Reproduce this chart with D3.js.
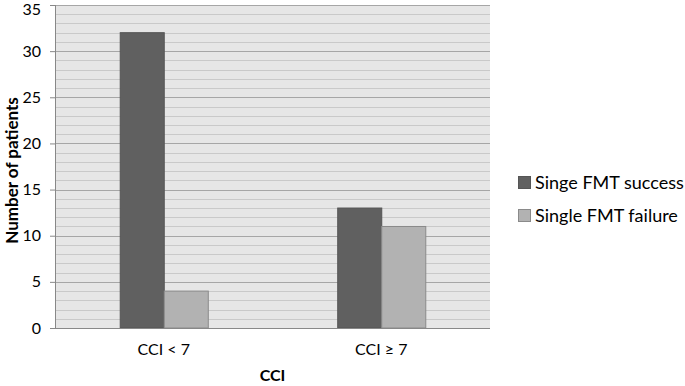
<!DOCTYPE html>
<html>
<head>
<meta charset="utf-8">
<script src="https://cdn.jsdelivr.net/npm/d3@7"></script>
<style>
  body { margin: 0; background: #fff; }
  svg text { font-family: Lato, "Open Sans", sans-serif; fill: #000; }
</style>
</head>
<body>
<div id="chart"></div>
<script>
// data
var categories = ["CCI < 7", "CCI \u2265 7"];
var seriesNames = ["Singe FMT success", "Single FMT failure"];
var successValues = [32, 13];
var failureValues = [4, 11];
var yTicks = [0, 5, 10, 15, 20, 25, 30, 35];

var colors = ["#606060", "#b2b2b2"];
var strokes = ["#555555", "#8a8a8a"];

var width = 685, height = 386;
var margin = {top: 5, right: 195, bottom: 58, left: 55};
var plotW = width - margin.left - margin.right;
var plotH = height - margin.top - margin.bottom;

var svg = d3.select("#chart")
  .append("svg")
    .attr("width", width)
    .attr("height", height);

var g = svg.append("g")
    .attr("transform", "translate(" + margin.left + "," + margin.top + ")");

var y = d3.scaleLinear()
    .domain([0, 35])
    .range([plotH, 0]);

var x0 = d3.scaleBand()
    .domain(categories)
    .range([0, plotW])
    .padding(0);

var x1 = d3.scaleBand()
    .domain(seriesNames)
    .range([0, x0.bandwidth()])
    .paddingInner(0)
    .paddingOuter(1.47);

// plot background
g.append("rect")
    .attr("width", plotW)
    .attr("height", plotH)
    .attr("fill", "#e6e6e6");

// minor grid lines, one per patient
g.append("g")
  .selectAll("line")
  .data(d3.range(1, 35).filter(function(d) { return d % 5 !== 0; }))
  .enter().append("line")
    .attr("x1", 0)
    .attr("x2", plotW)
    .attr("y1", function(d) { return Math.round(y(d)) + 0.5; })
    .attr("y2", function(d) { return Math.round(y(d)) + 0.5; })
    .style("stroke", "#c9c9c9")
    .style("stroke-width", "1px");

// major grid lines
g.append("g")
  .selectAll("line")
  .data(yTicks.slice(1))
  .enter().append("line")
    .attr("x1", 0)
    .attr("x2", plotW)
    .attr("y1", function(d) { return Math.round(y(d)) + 0.5; })
    .attr("y2", function(d) { return Math.round(y(d)) + 0.5; })
    .style("stroke", "#a6a6a6")
    .style("stroke-width", "1px");

// bars
var rows = categories.map(function(c, i) {
  return [
    {cat: c, s: seriesNames[0], v: successValues[i], k: 0},
    {cat: c, s: seriesNames[1], v: failureValues[i], k: 1}
  ];
});

g.selectAll(".group")
  .data(rows)
  .enter().append("g")
    .attr("class", "group")
    .attr("transform", function(d) { return "translate(" + x0(d[0].cat) + ",0)"; })
  .selectAll("rect")
  .data(function(d) { return d; })
  .enter().append("rect")
    .attr("x", function(d) { return x1(d.s) + 0.5; })
    .attr("y", function(d) { return y(d.v); })
    .attr("width", x1.bandwidth())
    .attr("height", function(d) { return plotH - y(d.v); })
    .attr("fill", function(d) { return colors[d.k]; })
    .attr("stroke", function(d) { return strokes[d.k]; })
    .attr("stroke-width", 1);

// y axis
var yAxis = g.append("g")
    .attr("class", "y-axis")
    .call(d3.axisLeft(y).tickValues(yTicks).tickSize(5).tickPadding(9));
yAxis.select(".domain").attr("stroke", "#888").attr("d", "M0.5," + plotH + "V0");
yAxis.selectAll(".tick line").attr("stroke", "#888");
yAxis.selectAll("text")
    .style("font-size", "16px")
    .attr("dy", function(d) { return d === 35 ? "0.62em" : "0.32em"; });

// x axis
var xAxis = g.append("g")
    .attr("class", "x-axis")
    .attr("transform", "translate(0," + plotH + ")")
    .call(d3.axisBottom(x0).tickSize(0).tickPadding(16));
xAxis.select(".domain").attr("stroke", "#888").attr("d", "M-5,0.5H" + plotW);
xAxis.selectAll("text").style("font-size", "16px");

// axis titles
svg.append("text")
    .attr("transform", "translate(18," + (margin.top + plotH / 2 + 4) + ") rotate(-90)")
    .attr("text-anchor", "middle")
    .style("font-size", "17px")
    .style("font-weight", "bold")
    .text("Number of patients");

svg.append("text")
    .attr("x", margin.left + plotW / 2)
    .attr("y", 381)
    .attr("text-anchor", "middle")
    .style("font-size", "16px")
    .style("font-weight", "bold")
    .text("CCI");

// legend
var legend = svg.append("g")
    .attr("transform", "translate(518,176)");

var item = legend.selectAll("g")
  .data(seriesNames)
  .enter().append("g")
    .attr("transform", function(d, i) { return "translate(0," + (i * 33) + ")"; });

item.append("rect")
    .attr("x", 0.5)
    .attr("y", 0.5)
    .attr("width", 12)
    .attr("height", 12)
    .attr("fill", function(d, i) { return colors[i]; })
    .attr("stroke", function(d, i) { return strokes[i]; });

item.append("text")
    .attr("x", 17)
    .attr("y", 13)
    .style("font-size", "18px")
    .text(function(d) { return d; });
</script>
</body>
</html>
